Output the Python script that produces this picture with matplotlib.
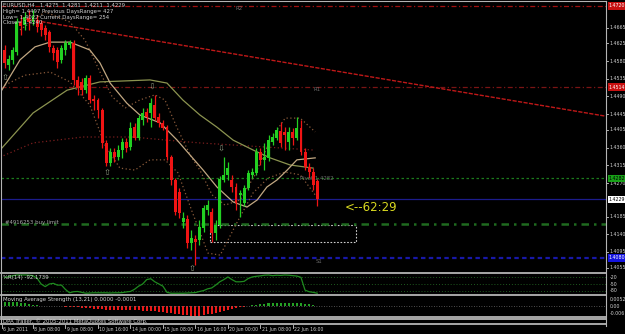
import matplotlib as mpl
mpl.use('agg')
import matplotlib.pyplot as plt
from matplotlib import font_manager
from matplotlib.lines import Line2D
from matplotlib.patches import Rectangle

# EURUSD,H4 candles
opens = [1.4608, 1.4570, 1.4583, 1.4603, 1.4679, 1.4672, 1.4689, 1.4679, 1.4684, 1.4677,
         1.4664, 1.4654, 1.4613, 1.4608, 1.4583, 1.4608, 1.4621, 1.4626, 1.4532, 1.4527,
         1.4506, 1.4537, 1.4484, 1.4481, 1.4456, 1.4372, 1.4321, 1.4349, 1.4336, 1.4354,
         1.4374, 1.4362, 1.4412, 1.4384, 1.4430, 1.4451, 1.4448, 1.4468, 1.4438, 1.4423,
         1.4412, 1.4336, 1.4278, 1.4247, 1.4171, 1.4179, 1.4118, 1.4128, 1.4125, 1.4156,
         1.4202, 1.4197, 1.4143, 1.4163, 1.4278, 1.4290, 1.4278, 1.4260, 1.4240, 1.4219,
         1.4257, 1.4290, 1.4296, 1.4349, 1.4329, 1.4334, 1.4374, 1.4384, 1.4402, 1.4400,
         1.4374, 1.4400, 1.4384, 1.4410, 1.4349, 1.4311, 1.4298, 1.4275]
highs = [1.4621, 1.4595, 1.4616, 1.4689, 1.4697, 1.4705, 1.4710, 1.4710, 1.4697, 1.4684,
         1.4672, 1.4659, 1.4621, 1.4616, 1.4621, 1.4633, 1.4633, 1.4633, 1.4542, 1.4537,
         1.4544, 1.4544, 1.4494, 1.4486, 1.4461, 1.4379, 1.4359, 1.4359, 1.4367, 1.4384,
         1.4384, 1.4425, 1.4423, 1.4443, 1.4461, 1.4461, 1.4486, 1.4494, 1.4448, 1.4430,
         1.4417, 1.4341, 1.4283, 1.4257, 1.4197, 1.4189, 1.4151, 1.4138, 1.4176, 1.4214,
         1.4227, 1.4207, 1.4176, 1.4288, 1.4336, 1.4324, 1.4290, 1.4270, 1.4252, 1.4265,
         1.4303, 1.4308, 1.4359, 1.4359, 1.4372, 1.4392, 1.4397, 1.4412, 1.4425, 1.4412,
         1.4412, 1.4410, 1.4438, 1.4430, 1.4359, 1.4321, 1.4308, 1.4281]
lows = [1.4562, 1.4557, 1.4572, 1.4595, 1.4646, 1.4659, 1.4659, 1.4672, 1.4654, 1.4644,
        1.4633, 1.4603, 1.4583, 1.4562, 1.4575, 1.4595, 1.4613, 1.4519, 1.4494, 1.4494,
        1.4499, 1.4473, 1.4456, 1.4435, 1.4359, 1.4313, 1.4313, 1.4324, 1.4329, 1.4334,
        1.4349, 1.4354, 1.4379, 1.4379, 1.4417, 1.4425, 1.4412, 1.4430, 1.4412, 1.4405,
        1.4329, 1.4265, 1.4189, 1.4181, 1.4156, 1.4105, 1.4100, 1.4062, 1.4113, 1.4146,
        1.4189, 1.4120, 1.4125, 1.4156, 1.4273, 1.4278, 1.4247, 1.4202, 1.4184, 1.4212,
        1.4252, 1.4283, 1.4290, 1.4316, 1.4303, 1.4326, 1.4367, 1.4379, 1.4362, 1.4354,
        1.4354, 1.4367, 1.4379, 1.4341, 1.4303, 1.4283, 1.4252, 1.4211]
closes = [1.4575, 1.4585, 1.4608, 1.4679, 1.4669, 1.4692, 1.4679, 1.4694, 1.4666, 1.4659,
          1.4646, 1.4616, 1.4600, 1.4578, 1.4613, 1.4626, 1.4628, 1.4532, 1.4511, 1.4506,
          1.4537, 1.4481, 1.4478, 1.4456, 1.4372, 1.4321, 1.4349, 1.4336, 1.4354, 1.4374,
          1.4359, 1.4410, 1.4384, 1.4435, 1.4448, 1.4438, 1.4473, 1.4435, 1.4423, 1.4410,
          1.4336, 1.4278, 1.4197, 1.4194, 1.4181, 1.4118, 1.4130, 1.4120, 1.4158, 1.4207,
          1.4214, 1.4143, 1.4163, 1.4280, 1.4290, 1.4308, 1.4260, 1.4219, 1.4245, 1.4257,
          1.4296, 1.4298, 1.4349, 1.4329, 1.4336, 1.4379, 1.4387, 1.4405, 1.4372, 1.4392,
          1.4400, 1.4384, 1.4410, 1.4349, 1.4311, 1.4298, 1.4265, 1.4229]

# Williams %R(14), one value per bar
wpr = [-20, -17, -12, -9, -9, -9, -10, -12, -24, -50, -62, -50, -47, -55, -55, -75, -90, -85,
       -84, -88, -92, -91, -90, -90, -90, -90, -91, -90, -90, -89, -86, -84, -74, -60, -50, -30,
       -26, -40, -50, -60, -88, -92, -92, -92, -92, -91, -90, -89, -84, -80, -72, -68, -55, -40,
       -30, -18, -30, -40, -40, -38, -25, -18, -15, -13, -10, -9, -12, -10, -11, -9, -10, -12,
       -14, -20, -78, -85, -88, -92]

# Moving Average Strength histogram, one value per bar
osma = [0.0030, 0.0032, 0.0030, 0.0028, 0.0025, 0.0020, 0.0015, 0.0010, 0.0006, 0.0003,
        0.0001, -0.0001, -0.0002, -0.0003, -0.0003, -0.0004, -0.0006, -0.0008, -0.0010, -0.0013,
        -0.0016, -0.0019, -0.0021, -0.0022, -0.0025, -0.0029, -0.0031, -0.0033, -0.0034, -0.0034,
        -0.0033, -0.0033, -0.0034, -0.0035, -0.0036, -0.0037, -0.0038, -0.0040, -0.0043, -0.0047,
        -0.0052, -0.0058, -0.0063, -0.0066, -0.0068, -0.0072, -0.0076, -0.0080, -0.0078, -0.0072,
        -0.0065, -0.0059, -0.0052, -0.0047, -0.0040, -0.0033, -0.0026, -0.0016, -0.0010, -0.0005,
        0.0002, 0.0007, 0.0011, 0.0014, 0.0018, 0.0021, 0.0023, 0.0025, 0.0026, 0.0026,
        0.0026, 0.0025, 0.0023, 0.0020, 0.0016, 0.0012, 0.0006, -0.0001]

# overlay lines as (bar, price)
fast_bars = [-1.1, 3.8, 7.5, 11.2, 16.1, 21.0, 23.5, 26.0, 30.1, 33.3, 38.3, 42.5, 48.9,
             52.3, 56.3, 59.7, 62.2, 64.6, 67.1, 69.6, 72.0, 76.5]
fast_ma = [1.4499, 1.4583, 1.4616, 1.4628, 1.4628, 1.4608, 1.4575, 1.4524, 1.4473, 1.4443,
           1.4423, 1.4379, 1.4303, 1.4260, 1.4222, 1.4209, 1.4227, 1.4260, 1.4278, 1.4303,
           1.4329, 1.4334]
mid_bars = [-1.1, 7.0, 15.4, 23.5, 35.8, 40.0, 43.9, 48.1, 52.3, 56.3, 61.2, 65.4, 70.3, 76.0]
mid_ma = [1.4354, 1.4448, 1.4506, 1.4527, 1.4532, 1.4524, 1.4481, 1.4443, 1.4412, 1.4379,
          1.4354, 1.4334, 1.4316, 1.4308]
slow_bars = [-1.1, 7.0, 19.3, 31.6, 40.0, 48.1, 60.4, 76.0]
slow_ma = [1.4336, 1.4372, 1.4387, 1.4387, 1.4379, 1.4372, 1.4364, 1.4354]
upper_bars = [3.8, 10.0, 16.1, 19.8, 23.5, 26.5, 29.7, 33.3, 37.0, 39.5, 42.5, 45.7, 48.1,
              51.1, 54.3, 58.0, 61.7, 65.4, 69.1, 72.8, 76.5]
upper_band = [1.4659, 1.4705, 1.4679, 1.4633, 1.4552, 1.4489, 1.4461, 1.4481, 1.4494, 1.4481,
              1.4410, 1.4341, 1.4303, 1.4240, 1.4214, 1.4227, 1.4291, 1.4379, 1.4435, 1.4435,
              1.4400]
lower_bars = [0.1, 5.0, 11.2, 16.1, 21.0, 24.7, 28.4, 32.1, 35.8, 39.5, 42.7, 46.2, 50.1,
              53.1, 57.2, 61.2, 64.9, 69.1, 72.8, 76.5]
lower_band = [1.4519, 1.4544, 1.4552, 1.4527, 1.4468, 1.4367, 1.4308, 1.4303, 1.4329, 1.4329,
              1.4296, 1.4197, 1.4092, 1.4087, 1.4169, 1.4245, 1.4283, 1.4298, 1.4291, 1.4240]

trend_bars = [5, 148]
trend_prices = [1.4687, 1.4440]

r2, r1, pivot, s1 = 1.4720, 1.4514, 1.4282, 1.4080
bid = 1.4229
buy_limit = 1.4166
box_bars = [50.5, 86.5]
box_prices = [1.4120, 1.4164]

up_arrow_bars = [0.1, 25.2, 46.2]
up_arrow_prices = [1.4539, 1.4296, 1.4054]
down_arrow_bars = [36.3, 53.3]
down_arrow_prices = [1.4514, 1.4357]

price_ticks = [1.4665, 1.4625, 1.4580, 1.4535, 1.4490, 1.4445, 1.4405, 1.4360, 1.4315,
               1.4270, 1.4185, 1.4140, 1.4095, 1.4055]
time_bars = [-0.6, 7, 15, 23, 31, 39, 47, 55, 63, 71]
time_labels = ['6 Jun 2011', '8 Jun 08:00', '9 Jun 08:00', '10 Jun 16:00', '14 Jun 00:00',
               '15 Jun 08:00', '16 Jun 16:00', '20 Jun 00:00', '21 Jun 08:00', '22 Jun 16:00']

W, H = 625, 334
X0, DX = 4.6, 4.06          # pixel of bar 0, pixels per bar
P0, DP = 1.4735, 0.000254   # price at pixel row 0, price per pixel
GRAY = '#b4b4b4'
TXT = '#d0d0d0'

# MT4 uses a small narrow font; take a narrow family when there is one
installed = {f.name for f in font_manager.fontManager.ttflist}
if 'Liberation Sans Narrow' in installed:
    plt.rcParams['font.family'] = ['Liberation Sans Narrow', 'DejaVu Sans']
    FS, FS_R, FS_T = 4.9, 4.3, 4.1
else:
    plt.rcParams['font.family'] = ['DejaVu Sans']
    FS, FS_R, FS_T = 3.9, 3.4, 3.3

fig = plt.figure(figsize=(W / 100, H / 100), dpi=100, facecolor='black')


def px_axes(x0, y0, x1, y1):
    ax = fig.add_axes([x0 / W, 1 - y1 / H, (x1 - x0) / W, (y1 - y0) / H])
    ax.set_facecolor('black')
    ax.set_axis_off()
    ax.set_xlim((x0 - X0) / DX, (x1 - X0) / DX)
    return ax


def fig_line(xs, ys, **kw):
    fig.add_artist(Line2D([x / W for x in xs], [1 - y / H for y in ys], **kw))


def fig_text(x, y, s, **kw):
    fig.text(x / W, 1 - y / H, s, **kw)


# ---- main price chart
ax = px_axes(1, 1, 606, 271)
ax.set_ylim(P0 - DP * 271, P0 - DP * 1)

ax.axhline(r2, color='#a01010', lw=0.9, ls=(0, (4, 2, 1, 2)))
ax.axhline(r1, color='#7a1414', lw=0.9, ls=(0, (4, 2, 1, 2)))
ax.axhline(pivot, color='#1c7a1c', lw=0.9, ls=(0, (2, 2)))
ax.axhline(bid, color='#1c1c8c', lw=0.9)
ax.axhline(buy_limit, color='#1f6a1f', lw=1.8, ls=(0, (3, 2, 1, 2)))
ax.axhline(s1, color='#1818a8', lw=1.6, ls=(0, (2, 1.5)))
ax.plot(trend_bars, trend_prices, color='#c01818', lw=1.0, ls=(0, (3, 1)))

ax.plot(slow_bars, slow_ma, color='#7a1e1e', lw=0.9, ls=(0, (1, 2)))
ax.plot(upper_bars, upper_band, color='#8a5a3a', lw=0.9, ls=(0, (1, 2)))
ax.plot(lower_bars, lower_band, color='#8a5a3a', lw=0.9, ls=(0, (1, 2)))
ax.plot(mid_bars, mid_ma, color='#8c9450', lw=0.9)
ax.plot(fast_bars, fast_ma, color='#c2a882', lw=0.9)

ax.add_patch(Rectangle((box_bars[0], box_prices[0]), box_bars[1] - box_bars[0],
                       box_prices[1] - box_prices[0], fill=False, ec='#d0d0d0',
                       lw=0.8, ls=(0, (1.5, 1.5))))

for i in range(len(opens)):
    o, h, l, c = opens[i], highs[i], lows[i], closes[i]
    col = '#22d022' if c >= o else '#f01414'
    ax.vlines(i, l, h, color=col, lw=0.9, zorder=3)
    ax.bar(i, max(abs(c - o), 0.00015), bottom=min(o, c), width=0.72, color=col, zorder=4)

for b, p in zip(up_arrow_bars, up_arrow_prices):
    ax.text(b, p, '\u21e7', color='#8e9a80', fontsize=6, ha='center', va='center',
            family='DejaVu Sans', zorder=5)
for b, p in zip(down_arrow_bars, down_arrow_prices):
    ax.text(b, p, '\u21e9', color='#8e9a80', fontsize=6, ha='center', va='center',
            family='DejaVu Sans', zorder=5)

ax.text(56.8, r2 - 0.0006, 'R2', color='#6a6a6a', fontsize=FS, va='center')
ax.text(76.0, r1 - 0.0007, 'R1', color='#6a6a6a', fontsize=FS, va='center')
ax.text(72.8, pivot - 0.0001, 'Pivot 1.4282', color='#6a6a6a', fontsize=FS, va='center')
ax.text(76.5, s1 - 0.0010, 'S1', color='#6a6a6a', fontsize=FS, va='center')
ax.text(0.0, buy_limit + 0.0003, '#4916253 buy limit', color='#a8a8a8', fontsize=FS,
        va='center')
ax.text(83.8, bid - 0.0020, '<--62:29', color='#d8d820', fontsize=8.5, va='center')

# right price scale
ty = ax.get_yaxis_transform()
for p in price_ticks:
    ax.plot([1.0, 1.004], [p, p], color=TXT, lw=0.6, transform=ty, clip_on=False)
    ax.text(1.0058, p, '%.4f' % p, color=TXT, fontsize=FS_R, va='center', transform=ty)
for p, fc, tc in [(r2, '#c81010', 'white'), (r1, '#c81010', 'white'),
                  (pivot, '#18a018', 'black'), (bid, 'white', 'black'),
                  (s1, '#1414e0', 'white')]:
    ax.text(1.0045, p, '%.4f' % p, color=tc, fontsize=FS_R, va='center', transform=ty,
            bbox=dict(fc=fc, ec='none', pad=0.8))

fig_text(3, 5, 'EURUSD,H4   1.4275  1.4281  1.4211  1.4229', color=TXT, fontsize=FS,
         va='center')
fig_text(3, 11, 'High= 1.4497 Previous DaysRange= 427', color=TXT, fontsize=FS, va='center')
fig_text(3, 17, 'Low= 1.4027 Current DaysRange= 254', color=TXT, fontsize=FS, va='center')
fig_text(3, 23, 'Close= 1.4240', color=TXT, fontsize=FS, va='center')

# ---- Williams %R panel
aw = px_axes(1, 273, 606, 295)
aw.set_ylim(-100, 0)
for lv in [-20, -50, -80]:
    aw.axhline(lv, color='#1e5a1e', lw=0.7, ls=(0, (1, 2)))
aw.plot(range(len(wpr)), wpr, color='#1f8a1f', lw=0.9)
tw = aw.get_yaxis_transform()
for lv in [-20, -50, -80]:
    aw.text(1.0058, lv, str(lv), color=TXT, fontsize=FS_R, va='center', transform=tw)
fig_text(3, 278, '%R(14) -92.1739', color=TXT, fontsize=FS, va='center')

# ---- Moving Average Strength panel
ao = px_axes(1, 296, 606, 316)
ao.set_ylim(-0.0078, 0.0078)
ao.axhline(0, color='#6a6a6a', lw=0.6, ls=(0, (1, 2)))
ao.bar(range(len(osma)), osma, width=0.5,
       color=['#24a024' if v > 0 else '#f01818' for v in osma])
to = ao.get_yaxis_transform()
for lv, s in [(0.0052, '0.0052'), (0.0, '0.00'), (-0.006, '-0.006')]:
    ao.text(1.0058, lv, s, color=TXT, fontsize=FS_R, va='center', transform=to)
fig_text(3, 300, 'Moving Average Strength (13,21) 0.0000 -0.0001', color=TXT, fontsize=FS,
         va='center')

fig_text(3, 321.5, 'DPA Trailer, \u00a9 2005-2011 MetaQuotes Software Corp.', color=TXT,
         fontsize=FS, va='center')

# panel borders
fig_line([1, 1], [1, 324], color=GRAY, lw=0.8)
fig_line([1, 606], [1.2, 1.2], color=GRAY, lw=0.8)
for yy in [272.5, 294.8, 316.8, 319.3, 324]:
    fig_line([1, 606], [yy, yy], color=GRAY, lw=1.3)
fig_line([606, 606], [1, 326], color=GRAY, lw=0.8)

# time axis
for b, s in zip(time_bars, time_labels):
    x = X0 + b * DX
    fig_line([x, x], [325, 328], color=TXT, lw=0.6)
    fig_text(x + 1.2, 330, s, color=TXT, fontsize=FS_T, va='center')

plt.savefig('out.png', dpi=100, facecolor='black')
